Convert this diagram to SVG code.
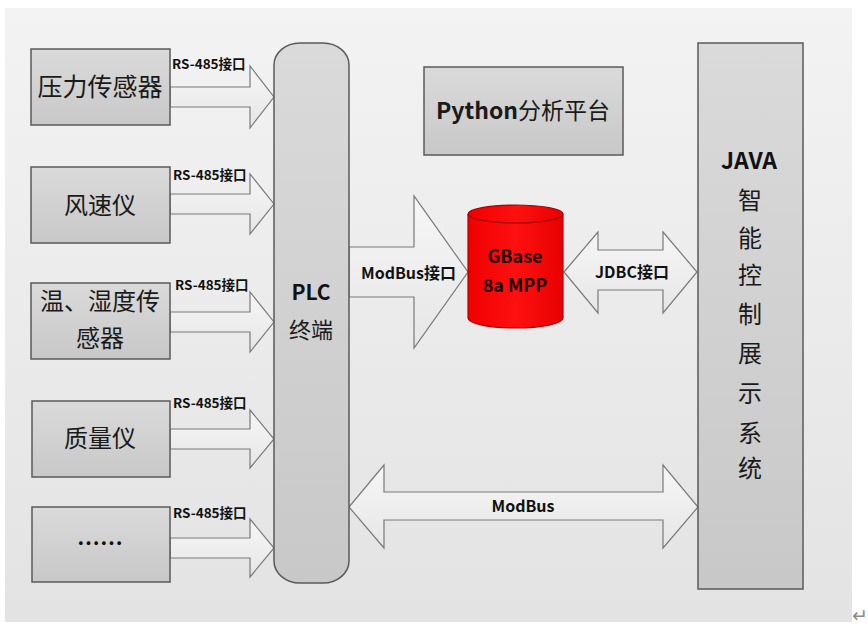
<svg xmlns="http://www.w3.org/2000/svg" width="868" height="632" viewBox="0 0 868 632">
<defs>
<linearGradient id="bg" x1="0" y1="0" x2="0" y2="1"><stop offset="0" stop-color="#f3f3f3"/><stop offset="1" stop-color="#e3e3e3"/></linearGradient>
<linearGradient id="box" x1="0" y1="0" x2="0" y2="1"><stop offset="0" stop-color="#dadada"/><stop offset="1" stop-color="#c8c8c8"/></linearGradient>
<linearGradient id="arr" x1="0" y1="0" x2="0" y2="1"><stop offset="0" stop-color="#f6f6f6"/><stop offset="1" stop-color="#e6e6e6"/></linearGradient>
<linearGradient id="red" x1="0" y1="0" x2="1" y2="0"><stop offset="0" stop-color="#f00000"/><stop offset="0.5" stop-color="#ff1010"/><stop offset="1" stop-color="#e80000"/></linearGradient>
</defs>
<style>
.box{fill:url(#box);stroke:#5a5a5a;stroke-width:1.5}
.arr{fill:url(#arr);stroke:#7a7a7a;stroke-width:1.2;stroke-linejoin:miter}
.cjk{font-family:"Noto Sans CJK SC","Noto Sans",sans-serif;fill:#1a1a1a}
.lbl{font-family:"Noto Sans CJK SC","Noto Sans",sans-serif;font-weight:bold;fill:#111}
.rs{font-size:13.5px}
.mid{text-anchor:middle}
</style>
<rect x="5" y="8" width="847" height="614" fill="url(#bg)"/>
<text x="852" y="622" font-family="DejaVu Sans,sans-serif" font-size="19" fill="#8a8a8a">↵</text>

<g id="connectors">
<path class="arr" d="M170,87 H250 V66 L274,97 L250,128 V107 H170 Z"/>
<path class="arr" d="M170,194 H250 V174 L274,204 L250,234 V214 H170 Z"/>
<path class="arr" d="M170,312 H250 V292 L274,322 L250,352 V332 H170 Z"/>
<path class="arr" d="M170,429 H250 V410 L274,439 L250,468 V449 H170 Z"/>
<path class="arr" d="M170,538 H250 V519 L274,548 L250,577 V558 H170 Z"/>
<text class="lbl rs" x="172" y="69">RS-485接口</text>
<text class="lbl rs" x="173" y="180">RS-485接口</text>
<text class="lbl rs" x="175" y="290">RS-485接口</text>
<text class="lbl rs" x="173" y="408">RS-485接口</text>
<text class="lbl rs" x="173" y="518">RS-485接口</text>
<path class="arr" d="M349,247 H414 V196 L468,272 L414,348 V297 H349 Z"/>
<text class="lbl" x="361" y="279" font-size="16">ModBus接口</text>
<path class="arr" d="M564,272 L598,232 V250 H663 V232 L697,272 L663,313 V290 H598 V313 Z"/>
<text class="lbl" x="595" y="278" font-size="16">JDBC接口</text>
<path class="arr" d="M349,507 L384,465 V492 H663 V465 L698,507 L663,548 V520 H384 V548 Z"/>
<text class="lbl mid" x="523" y="512" font-size="16">ModBus</text>
</g>

<g id="n-pressure"><rect class="box" x="31" y="49" width="139" height="76"/><text class="cjk mid" x="100" y="96" font-size="25">压力传感器</text></g>
<g id="n-wind"><rect class="box" x="31" y="167" width="139" height="76"/><text class="cjk mid" x="100" y="214" font-size="24">风速仪</text></g>
<g id="n-humid"><rect class="box" x="31" y="283" width="139" height="76"/><text class="cjk mid" x="100" y="310" font-size="24">温、湿度传</text><text class="cjk mid" x="100" y="347" font-size="24">感器</text></g>
<g id="n-mass"><rect class="box" x="32" y="401" width="138" height="76"/><text class="cjk mid" x="100" y="447" font-size="24">质量仪</text></g>
<g id="n-more"><rect class="box" x="32" y="507" width="138" height="75"/><text class="lbl mid" x="100" y="552" font-size="23">……</text></g>

<g id="n-plc"><rect class="box" x="274" y="43" width="75" height="540" rx="26" ry="22"/><text class="lbl mid" x="311" y="300" font-size="21">PLC</text><text class="cjk mid" x="311" y="338" font-size="22">终端</text></g>

<g id="n-python"><rect class="box" x="424" y="67" width="199" height="88"/><text class="cjk mid" x="523" y="119" font-size="23"><tspan font-weight="bold">Python</tspan>分析平台</text></g>

<g id="n-gbase">
<path d="M468,214 V318 A47.5,10 0 0 0 563,318 V214 A47.5,9 0 0 0 468,214 Z" fill="url(#red)" stroke="#b00000" stroke-width="1.2"/>
<path d="M468,214 A47.5,9 0 0 0 563,214" fill="none" stroke="#a00000" stroke-width="1.2"/>
<text class="lbl mid" x="515" y="263" font-size="18" style="fill:#1a0000">GBase</text>
<text class="lbl mid" x="515" y="292" font-size="18" style="fill:#1a0000">8a MPP</text>
</g>

<g id="n-java"><rect class="box" x="698" y="43" width="105" height="546"/>
<text class="lbl mid" x="749" y="169" font-size="23">JAVA</text>
<g class="cjk" font-size="24" text-anchor="middle">
<text x="750" y="209">智</text><text x="750" y="247">能</text><text x="750" y="284">控</text><text x="750" y="323">制</text>
<text x="750" y="362">展</text><text x="750" y="402">示</text><text x="750" y="442">系</text><text x="750" y="477">统</text>
</g></g>
</svg>
